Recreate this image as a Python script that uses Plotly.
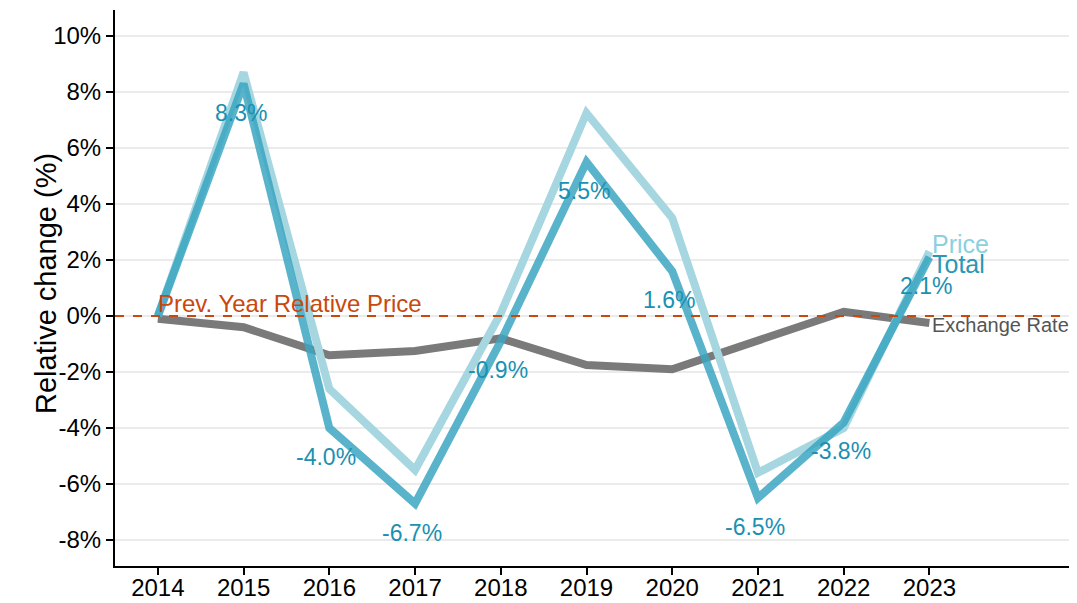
import plotly.graph_objects as go

years = [2014, 2015, 2016, 2017, 2018, 2019, 2020, 2021, 2022, 2023]
total = [0.0, 8.3, -4.0, -6.7, -0.9, 5.5, 1.6, -6.5, -3.8, 2.1]
price = [0.0, 8.7, -2.6, -5.5, 0.1, 7.25, 3.5, -5.6, -4.0, 2.3]
exchange = [-0.1, -0.4, -1.4, -1.25, -0.8, -1.75, -1.9, -0.9, 0.15, -0.25]
total_labels = ["", "8.3%", "-4.0%", "-6.7%", "-0.9%", "5.5%", "1.6%", "-6.5%", "-3.8%", "2.1%"]
y_ticks = [-8, -6, -4, -2, 0, 2, 4, 6, 8, 10]
y_tick_text = [f"{v}%" for v in y_ticks]

C_PRICE = "#a6d6e0"
C_TOTAL = "#3ba6c2"
C_TEXT = "#1a90b2"
C_EXCH = "#7a7a7a"
C_REF = "#c9480c"
FONT = "Liberation Sans, Arial, sans-serif"

fig = go.Figure()
fig.add_trace(go.Scatter(x=years, y=exchange, mode="lines",
                         line=dict(color=C_EXCH, width=8), showlegend=False))
fig.add_trace(go.Scatter(x=years, y=price, mode="lines",
                         line=dict(color=C_PRICE, width=8), showlegend=False))
fig.add_trace(go.Scatter(x=years, y=total, mode="lines", opacity=0.85,
                         line=dict(color=C_TOTAL, width=8), showlegend=False))

fig.add_shape(type="line", xref="paper", x0=0, x1=1, yref="y", y0=0, y1=0,
              line=dict(color=C_REF, width=2, dash="dash"), layer="above")

for x, y, t in zip(years, total, total_labels):
    if t:
        fig.add_annotation(x=x, y=y, text=t, showarrow=False, yshift=-29, xshift=-3,
                           font=dict(family=FONT, size=23, color=C_TEXT))

fig.add_annotation(x=years[0], y=0, text="Prev. Year Relative Price", showarrow=False,
                   xanchor="left", yanchor="bottom", yshift=-3, xshift=-2,
                   font=dict(family=FONT, size=24, color=C_REF))
fig.add_annotation(x=years[-1], y=price[-1], text="Price", showarrow=False,
                   xanchor="left", xshift=1, yshift=8,
                   font=dict(family=FONT, size=25, color="#8ccfe0"))
fig.add_annotation(x=years[-1], y=total[-1], text="Total", showarrow=False,
                   xanchor="left", xshift=1, yshift=-7,
                   font=dict(family=FONT, size=25, color="#2a97b5"))
fig.add_annotation(x=years[-1], y=exchange[-1], text="Exchange Rate", showarrow=False,
                   xanchor="left", xshift=1, yshift=-2,
                   font=dict(family=FONT, size=20, color="#555555"))
fig.add_annotation(xref="paper", yref="paper", x=0, y=0.5, xshift=-87, yshift=4,
                   text="Relative change (%)", textangle=-90, showarrow=False,
                   font=dict(family=FONT, size=29, color="black"))

# page body has an 8px default margin, so margins are offset to land the plot area
fig.update_layout(
    width=1077, height=603,
    margin=dict(l=107, r=15, t=2, b=45),
    plot_bgcolor="white", paper_bgcolor="white",
    font=dict(family=FONT, size=24, color="black"),
)
fig.update_xaxes(range=[2013.5, 2024.64], tickvals=years, ticktext=[str(y) for y in years],
                 showgrid=False, zeroline=False, showline=True, linecolor="black", linewidth=2,
                 ticks="outside", ticklen=7, tickwidth=1.5, tickcolor="black", automargin=False,
                 ticklabelstandoff=-8,
                 tickfont=dict(size=24, color="black"))
fig.update_yaxes(range=[-8.93, 10.93], tickvals=y_ticks, ticktext=y_tick_text,
                 showgrid=True, gridcolor="#ebebeb", gridwidth=2, zeroline=False,
                 showline=True, linecolor="black", linewidth=2, automargin=False,
                 ticks="outside", ticklen=7, tickwidth=1.5, tickcolor="black",
                 tickfont=dict(size=24, color="black"))

fig.write_html("out.html")
